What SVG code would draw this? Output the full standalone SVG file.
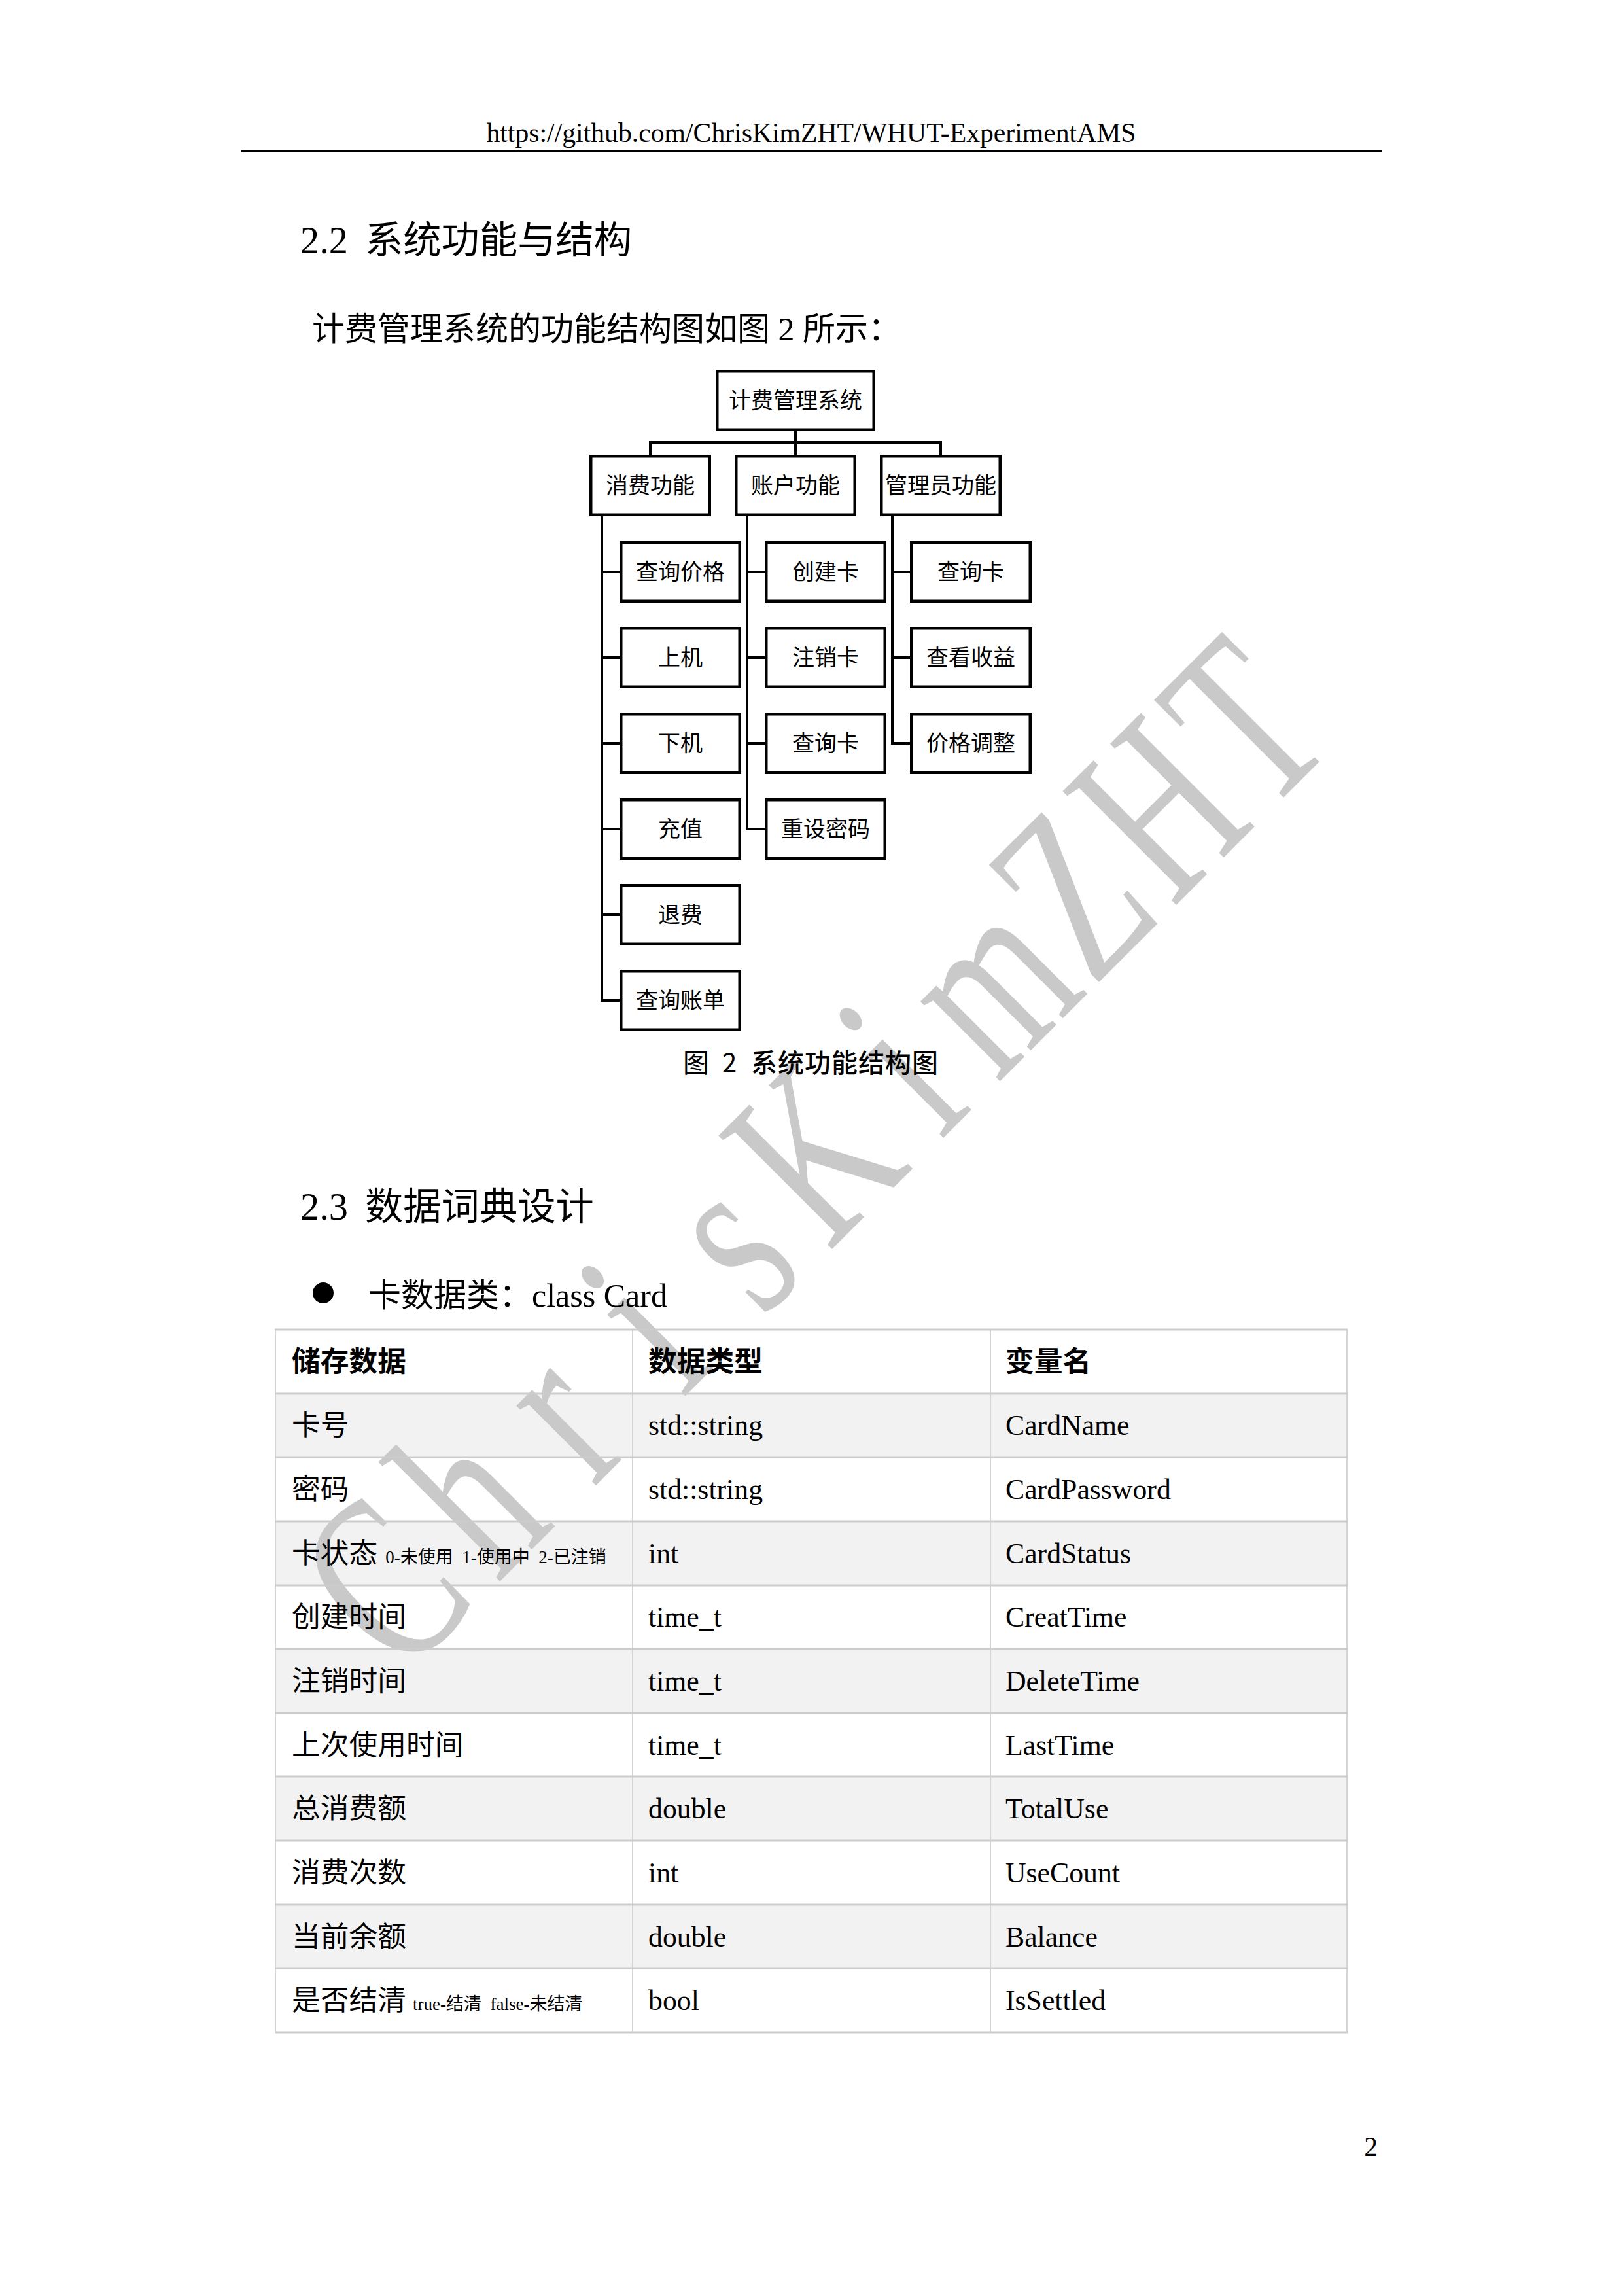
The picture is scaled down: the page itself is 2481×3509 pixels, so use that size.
<svg xmlns="http://www.w3.org/2000/svg" width="2481" height="3509" viewBox="0 0 2481 3509">
<style>
.serif{font-family:'Liberation Serif','Noto Sans CJK SC',serif;fill:#000}
.cjk{font-family:'Noto Sans CJK SC',sans-serif;fill:#000}
.node rect{fill:#fff;stroke:#000;stroke-width:4.5}
.node text{font-family:'Noto Sans CJK SC',sans-serif;font-size:34px;text-anchor:middle;fill:#000}
.conn{fill:none;stroke:#000;stroke-width:4}
.cell{font-family:'Liberation Serif','Noto Sans CJK SC',serif;font-size:43.75px;fill:#000}
.hdr{font-weight:bold}
.small{font-size:27px}
.hline{stroke:#cccccc;stroke-width:3}
.vline{stroke:#d4d4d4;stroke-width:2}
</style>
<rect x="0" y="0" width="2481" height="3509" fill="#fff"/>

<!-- page header -->
<text class="serif" x="1240" y="217" font-size="41.7" text-anchor="middle">https://github.com/ChrisKimZHT/WHUT-ExperimentAMS</text>
<line x1="369" y1="231" x2="2112" y2="231" stroke="#000" stroke-width="3"/>

<!-- section 2.2 -->
<text class="serif" x="459" y="387" font-size="58.3">2.2</text>
<text class="cjk" x="558" y="387" font-size="58.3">系统功能与结构</text>
<text class="serif" x="477" y="520" font-size="50">计费管理系统的功能结构图如图 2 所示：</text>

<!-- table fills -->
<g id="table-fills">
<rect x="421" y="2130" width="1638" height="97.6" fill="#f2f2f2"/>
<rect x="421" y="2325" width="1638" height="97.6" fill="#f2f2f2"/>
<rect x="421" y="2520" width="1638" height="97.6" fill="#f2f2f2"/>
<rect x="421" y="2715" width="1638" height="97.6" fill="#f2f2f2"/>
<rect x="421" y="2911" width="1638" height="97.6" fill="#f2f2f2"/>
</g>

<!-- watermark -->
<g id="watermark" transform="translate(608.5,2572.5) rotate(-45)">
<text transform="scale(0.68,1)" x="136.8 410.3 683.8 957.4 1230.9 1504.4 1777.9 2051.5 2325 2598.5 2872.1" y="0" font-family="'Liberation Serif',serif" font-size="375" text-anchor="middle" fill="#c9c9c9">ChrisKimZHT</text>
</g>

<!-- connectors -->
<g id="connectors" class="conn">
<path d="M1216,658 V696"/>
<path d="M994,696 V676 H1438 V696"/>
<path d="M920,789 V1529 H949"/>
<path d="M920,874 H949 M920,1005 H949 M920,1136 H949 M920,1267 H949 M920,1398 H949"/>
<path d="M1142,789 V1267 H1171"/>
<path d="M1142,874 H1171 M1142,1005 H1171 M1142,1136 H1171"/>
<path d="M1364,789 V1136 H1393"/>
<path d="M1364,874 H1393 M1364,1005 H1393"/>
</g>

<!-- nodes -->
<g id="n-root" class="node"><rect x="1096.25" y="567.25" width="239.5" height="89.5"/><text x="1216" y="624">计费管理系统</text></g>
<g id="n-consume" class="node"><rect x="903.25" y="697.25" width="181.5" height="89.5"/><text x="994" y="754">消费功能</text></g>
<g id="n-account" class="node"><rect x="1125.25" y="697.25" width="181.5" height="89.5"/><text x="1216" y="754">账户功能</text></g>
<g id="n-admin" class="node"><rect x="1347.25" y="697.25" width="181.5" height="89.5"/><text x="1438" y="754">管理员功能</text></g>

<g id="n-c1" class="node"><rect x="949.25" y="829.25" width="181.5" height="89.5"/><text x="1040" y="886">查询价格</text></g>
<g id="n-c2" class="node"><rect x="949.25" y="960.25" width="181.5" height="89.5"/><text x="1040" y="1017">上机</text></g>
<g id="n-c3" class="node"><rect x="949.25" y="1091.25" width="181.5" height="89.5"/><text x="1040" y="1148">下机</text></g>
<g id="n-c4" class="node"><rect x="949.25" y="1222.25" width="181.5" height="89.5"/><text x="1040" y="1279">充值</text></g>
<g id="n-c5" class="node"><rect x="949.25" y="1353.25" width="181.5" height="89.5"/><text x="1040" y="1410">退费</text></g>
<g id="n-c6" class="node"><rect x="949.25" y="1484.25" width="181.5" height="89.5"/><text x="1040" y="1541">查询账单</text></g>

<g id="n-a1" class="node"><rect x="1171.25" y="829.25" width="181.5" height="89.5"/><text x="1262" y="886">创建卡</text></g>
<g id="n-a2" class="node"><rect x="1171.25" y="960.25" width="181.5" height="89.5"/><text x="1262" y="1017">注销卡</text></g>
<g id="n-a3" class="node"><rect x="1171.25" y="1091.25" width="181.5" height="89.5"/><text x="1262" y="1148">查询卡</text></g>
<g id="n-a4" class="node"><rect x="1171.25" y="1222.25" width="181.5" height="89.5"/><text x="1262" y="1279">重设密码</text></g>

<g id="n-m1" class="node"><rect x="1393.25" y="829.25" width="181.5" height="89.5"/><text x="1484" y="886">查询卡</text></g>
<g id="n-m2" class="node"><rect x="1393.25" y="960.25" width="181.5" height="89.5"/><text x="1484" y="1017">查看收益</text></g>
<g id="n-m3" class="node"><rect x="1393.25" y="1091.25" width="181.5" height="89.5"/><text x="1484" y="1148">价格调整</text></g>

<!-- caption -->
<g id="caption" class="cjk" font-size="40">
<text x="1044" y="1639">图</text>
<text x="1104" y="1639">2</text>
<text x="1148" y="1639" font-weight="500" textLength="286" lengthAdjust="spacing">系统功能结构图</text>
</g>

<!-- section 2.3 -->
<text class="serif" x="459" y="1864" font-size="58.3">2.3</text>
<text class="cjk" x="558" y="1864" font-size="58.3">数据词典设计</text>
<circle cx="494" cy="1976" r="16" fill="#000"/>
<text class="serif" x="563" y="1997" font-size="50">卡数据类：class Card</text>

<!-- table lines -->
<g id="table-lines">
<line class="vline" x1="421" y1="2032" x2="421" y2="3106"/>
<line class="vline" x1="967" y1="2032" x2="967" y2="3106"/>
<line class="vline" x1="1514" y1="2032" x2="1514" y2="3106"/>
<line class="vline" x1="2059" y1="2032" x2="2059" y2="3106"/>
<line class="hline" x1="420" y1="2032" x2="2060" y2="2032"/>
<line class="hline" x1="420" y1="2130" x2="2060" y2="2130"/>
<line class="hline" x1="420" y1="2227" x2="2060" y2="2227"/>
<line class="hline" x1="420" y1="2325" x2="2060" y2="2325"/>
<line class="hline" x1="420" y1="2423" x2="2060" y2="2423"/>
<line class="hline" x1="420" y1="2520" x2="2060" y2="2520"/>
<line class="hline" x1="420" y1="2618" x2="2060" y2="2618"/>
<line class="hline" x1="420" y1="2715" x2="2060" y2="2715"/>
<line class="hline" x1="420" y1="2813" x2="2060" y2="2813"/>
<line class="hline" x1="420" y1="2911" x2="2060" y2="2911"/>
<line class="hline" x1="420" y1="3008" x2="2060" y2="3008"/>
<line class="hline" x1="420" y1="3106" x2="2060" y2="3106"/>
</g>

<!-- table text -->
<g id="table-text" class="cell">
<text class="hdr" x="446" y="2096">储存数据</text><text class="hdr" x="991" y="2096">数据类型</text><text class="hdr" x="1537" y="2096">变量名</text>
<text x="446" y="2193">卡号</text><text x="991" y="2193">std::string</text><text x="1537" y="2193">CardName</text>
<text x="446" y="2291">密码</text><text x="991" y="2291">std::string</text><text x="1537" y="2291">CardPassword</text>
<text x="446" y="2389">卡状态<tspan class="small" dx="12">0-未使用&#160;&#160;1-使用中&#160;&#160;2-已注销</tspan></text><text x="991" y="2389">int</text><text x="1537" y="2389">CardStatus</text>
<text x="446" y="2486">创建时间</text><text x="991" y="2486">time_t</text><text x="1537" y="2486">CreatTime</text>
<text x="446" y="2584">注销时间</text><text x="991" y="2584">time_t</text><text x="1537" y="2584">DeleteTime</text>
<text x="446" y="2682">上次使用时间</text><text x="991" y="2682">time_t</text><text x="1537" y="2682">LastTime</text>
<text x="446" y="2779">总消费额</text><text x="991" y="2779">double</text><text x="1537" y="2779">TotalUse</text>
<text x="446" y="2877">消费次数</text><text x="991" y="2877">int</text><text x="1537" y="2877">UseCount</text>
<text x="446" y="2975">当前余额</text><text x="991" y="2975">double</text><text x="1537" y="2975">Balance</text>
<text x="446" y="3072">是否结清<tspan class="small" dx="10">true-结清&#160;&#160;false-未结清</tspan></text><text x="991" y="3072">bool</text><text x="1537" y="3072">IsSettled</text>
</g>

<!-- page number -->
<text class="serif" x="2106" y="3295" font-size="41.7" text-anchor="end">2</text>
</svg>
